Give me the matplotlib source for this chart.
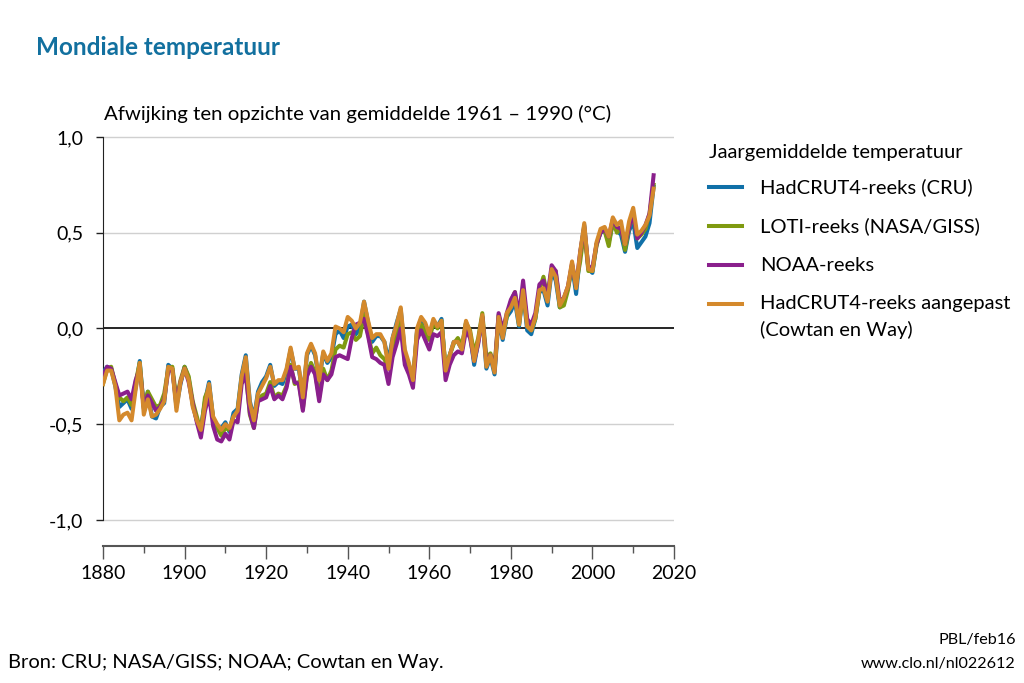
import numpy as np
import matplotlib.pyplot as plt
from matplotlib.lines import Line2D

plt.rcParams['font.family'] = ['Lato', 'DejaVu Sans']

years = np.arange(1880, 2016)

# HadCRUT4 (CRU), afwijking t.o.v. 1961-1990
hadcrut4 = [
    -0.23, -0.20, -0.21, -0.30, -0.41, -0.39, -0.37, -0.42, -0.31, -0.17,
    -0.42, -0.33, -0.46, -0.47, -0.41, -0.39, -0.19, -0.21, -0.41, -0.29,
    -0.20, -0.26, -0.40, -0.48, -0.52, -0.38, -0.28, -0.47, -0.51, -0.52,
    -0.49, -0.54, -0.44, -0.42, -0.24, -0.14, -0.38, -0.47, -0.33, -0.28,
    -0.25, -0.19, -0.30, -0.28, -0.29, -0.22, -0.11, -0.21, -0.21, -0.35,
    -0.14, -0.09, -0.14, -0.27, -0.13, -0.18, -0.15, -0.03, -0.01, -0.05,
    0.01, 0.02, -0.03, 0.00, 0.14, 0.03, -0.07, -0.04, -0.04, -0.07,
    -0.17, -0.05, 0.03, 0.10, -0.13, -0.19, -0.27, -0.01, 0.05, 0.02,
    -0.05, 0.04, 0.01, 0.05, -0.22, -0.14, -0.07, -0.07, -0.11, 0.03,
    -0.03, -0.19, -0.07, 0.06, -0.21, -0.15, -0.24, 0.05, -0.06, 0.06,
    0.09, 0.14, 0.01, 0.19, -0.01, -0.03, 0.05, 0.19, 0.20, 0.12,
    0.30, 0.25, 0.11, 0.15, 0.21, 0.33, 0.18, 0.39, 0.54, 0.31,
    0.29, 0.44, 0.50, 0.51, 0.45, 0.55, 0.51, 0.49, 0.40, 0.51,
    0.56, 0.42, 0.45, 0.48, 0.55, 0.74,
]

# LOTI (NASA/GISS)
loti = [
    -0.29, -0.21, -0.20, -0.29, -0.36, -0.38, -0.36, -0.40, -0.28, -0.18,
    -0.41, -0.33, -0.37, -0.41, -0.40, -0.34, -0.21, -0.20, -0.37, -0.27,
    -0.20, -0.25, -0.38, -0.46, -0.54, -0.36, -0.31, -0.47, -0.52, -0.56,
    -0.52, -0.53, -0.46, -0.44, -0.26, -0.23, -0.45, -0.52, -0.38, -0.35,
    -0.34, -0.28, -0.36, -0.34, -0.35, -0.30, -0.19, -0.29, -0.28, -0.42,
    -0.24, -0.18, -0.23, -0.36, -0.21, -0.27, -0.22, -0.11, -0.09, -0.10,
    -0.03, -0.02, -0.06, -0.04, 0.07, -0.03, -0.13, -0.10, -0.14, -0.16,
    -0.21, -0.10, -0.02, 0.05, -0.17, -0.19, -0.27, -0.02, 0.02, -0.02,
    -0.06, 0.03, 0.00, 0.04, -0.21, -0.14, -0.08, -0.05, -0.09, 0.03,
    -0.01, -0.13, -0.05, 0.08, -0.15, -0.13, -0.20, 0.07, -0.03, 0.06,
    0.14, 0.19, 0.02, 0.20, 0.03, -0.01, 0.05, 0.20, 0.27, 0.16,
    0.31, 0.30, 0.11, 0.12, 0.20, 0.33, 0.23, 0.35, 0.51, 0.30,
    0.30, 0.43, 0.51, 0.51, 0.43, 0.56, 0.50, 0.53, 0.41, 0.53,
    0.59, 0.47, 0.49, 0.52, 0.60, 0.75,
]

# NOAA
noaa = [
    -0.25, -0.20, -0.21, -0.28, -0.35, -0.34, -0.33, -0.37, -0.27, -0.21,
    -0.41, -0.35, -0.39, -0.43, -0.41, -0.37, -0.22, -0.22, -0.39, -0.28,
    -0.21, -0.28, -0.39, -0.49, -0.57, -0.43, -0.35, -0.51, -0.58, -0.59,
    -0.55, -0.58, -0.48, -0.49, -0.29, -0.24, -0.44, -0.52, -0.38, -0.37,
    -0.36, -0.30, -0.37, -0.35, -0.37, -0.31, -0.20, -0.28, -0.29, -0.43,
    -0.25, -0.20, -0.24, -0.38, -0.24, -0.27, -0.24, -0.15, -0.14, -0.15,
    -0.16, -0.05, 0.02, 0.03, 0.05, -0.04, -0.15, -0.16, -0.18, -0.19,
    -0.29, -0.15, -0.08, 0.00, -0.19, -0.24, -0.31, -0.06, -0.01, -0.06,
    -0.11, -0.03, -0.04, -0.02, -0.27, -0.19, -0.14, -0.12, -0.13, -0.01,
    -0.05, -0.17, -0.08, 0.06, -0.18, -0.14, -0.22, 0.08, -0.01, 0.08,
    0.15, 0.19, 0.07, 0.25, 0.05, 0.02, 0.08, 0.23, 0.25, 0.17,
    0.33, 0.30, 0.14, 0.16, 0.22, 0.34, 0.22, 0.40, 0.53, 0.32,
    0.32, 0.44, 0.50, 0.52, 0.48, 0.57, 0.53, 0.52, 0.44, 0.53,
    0.60, 0.47, 0.50, 0.54, 0.60, 0.80,
]

# HadCRUT4 aangepast (Cowtan en Way)
cowtan_way = [
    -0.29, -0.22, -0.22, -0.30, -0.48, -0.45, -0.44, -0.48, -0.32, -0.18,
    -0.45, -0.37, -0.46, -0.45, -0.42, -0.38, -0.20, -0.21, -0.43, -0.28,
    -0.21, -0.27, -0.41, -0.48, -0.53, -0.40, -0.29, -0.46, -0.50, -0.53,
    -0.50, -0.52, -0.46, -0.43, -0.25, -0.15, -0.39, -0.48, -0.34, -0.30,
    -0.26, -0.20, -0.29, -0.27, -0.27, -0.21, -0.10, -0.21, -0.20, -0.36,
    -0.13, -0.08, -0.13, -0.27, -0.12, -0.17, -0.13, 0.01, 0.00, -0.02,
    0.06, 0.04, 0.00, 0.03, 0.14, 0.04, -0.05, -0.03, -0.03, -0.07,
    -0.21, -0.05, 0.02, 0.11, -0.11, -0.18, -0.27, 0.00, 0.06, 0.03,
    -0.03, 0.05, 0.01, 0.04, -0.22, -0.14, -0.07, -0.07, -0.11, 0.04,
    -0.02, -0.17, -0.06, 0.07, -0.20, -0.14, -0.23, 0.06, -0.05, 0.08,
    0.11, 0.16, 0.02, 0.20, 0.01, -0.01, 0.06, 0.20, 0.21, 0.14,
    0.31, 0.27, 0.12, 0.16, 0.22, 0.35, 0.21, 0.40, 0.55, 0.31,
    0.30, 0.45, 0.52, 0.53, 0.48, 0.58, 0.54, 0.56, 0.44, 0.56,
    0.63, 0.49, 0.51, 0.54, 0.59, 0.73,
]

labels = ['HadCRUT4-reeks (CRU)', 'LOTI-reeks (NASA/GISS)', 'NOAA-reeks',
          'HadCRUT4-reeks aangepast\n(Cowtan en Way)']
colors = ['#1070a8', '#7f9a10', '#8a1f8c', '#d4892c']
series = [hadcrut4, loti, noaa, cowtan_way]

yticks = [-1.0, -0.5, 0.0, 0.5, 1.0]
ytick_labels = ['-1,0', '-0,5', '0,0', '0,5', '1,0']
xticks = [1880, 1900, 1920, 1940, 1960, 1980, 2000, 2020]

fig = plt.figure(figsize=(10.24, 6.83), dpi=100)
ax = fig.add_axes([0.1006, 0.2006, 0.5576, 0.6017])

# grid lines
for y in [1.0, 0.5, -0.5, -1.0]:
    ax.axhline(y, color='#d0d0d0', lw=1.0, zorder=0)
ax.axhline(0, color='black', lw=1.2, zorder=1)

for vals, c in zip(series, colors):
    ax.plot(years, vals, color=c, lw=2.9, solid_joinstyle='round', zorder=3)

ax.set_xlim(1880, 2020)
ax.set_ylim(-1.136, 1.01)

for s in ['top', 'right']:
    ax.spines[s].set_visible(False)
ax.spines['left'].set_bounds(-1.0, 1.0)
ax.spines['left'].set_color('#222222')
ax.spines['bottom'].set_color('#555555')
ax.spines['bottom'].set_linewidth(1.5)

ax.set_yticks(yticks)
ax.set_yticklabels(ytick_labels)
ax.set_xticks(xticks)
ax.set_xticks(np.arange(1890, 2020, 20), minor=True)
ax.tick_params(axis='y', direction='out', length=5, width=1, pad=9,
               labelsize=14, colors='#222222', labelcolor='black')
ax.tick_params(axis='x', which='major', direction='out', length=9, width=1,
               pad=5, labelsize=14, colors='#555555', labelcolor='black')
ax.tick_params(axis='x', which='minor', direction='out', length=5, width=1,
               colors='#555555')

# titles
fig.text(0.035, 0.930, 'Mondiale temperatuur', fontsize=17.5, fontweight='bold',
         color='#12709f', va='center', ha='left')
fig.text(0.1016, 0.833, 'Afwijking ten opzichte van gemiddelde 1961 \u2013 1990 (\u00b0C)',
         fontsize=14.7, va='center', ha='left')

# legend
fig.text(0.692, 0.777, 'Jaargemiddelde temperatuur', fontsize=14.5, va='center', ha='left')
leg_y = [0.726, 0.669, 0.612, 0.555]
for lbl, c, yy in zip(labels, colors, leg_y):
    fig.add_artist(Line2D([0.692, 0.725], [yy, yy], color=c, lw=2.9,
                          transform=fig.transFigure))
    for i, part in enumerate(lbl.split('\n')):
        fig.text(0.742, yy - i * 0.038, part, fontsize=14.5, va='center', ha='left')

# footer
fig.text(0.008, 0.030, 'Bron: CRU; NASA/GISS; NOAA; Cowtan en Way.', fontsize=14.5,
         va='center', ha='left')
fig.text(0.992, 0.063, 'PBL/feb16', fontsize=11.6, va='center', ha='right')
fig.text(0.992, 0.028, 'www.clo.nl/nl022612', fontsize=11.6, va='center', ha='right')

fig.savefig('out.png', dpi=100)
